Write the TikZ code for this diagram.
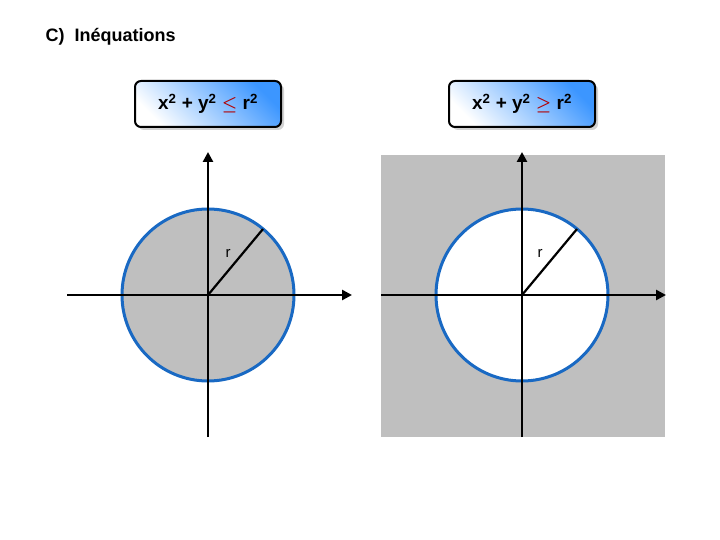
\documentclass[tikz,border=0pt]{standalone}
\usepackage{amsmath}
\usepackage{fontspec}
\setmainfont{Liberation Sans}
\usetikzlibrary{arrows.meta,shadows}
\begin{document}
\begin{tikzpicture}[x=1pt,y=-1pt,
  formula/.style={draw=black,line width=2pt,rounded corners=6pt,minimum width=146pt,minimum height=46pt,
    left color=white,right color={rgb,255:red,60;green,150;blue,255},shading angle=135,
    drop shadow={shadow xshift=3pt,shadow yshift=-3pt,fill=gray!70},font=\bfseries\fontsize{19}{22}\selectfont},
  axis/.style={line width=2.5pt,-{Triangle[length=10pt,width=10pt]}},
  circ/.style={draw={rgb,255:red,25;green,105;blue,195},line width=3pt},
  rad/.style={line width=2.2pt},
  lbl/.style={font=\fontsize{15}{18}\selectfont}]
\useasboundingbox (0,0) rectangle (720,540);
\node[font=\bfseries\fontsize{18}{21}\selectfont,anchor=west] (title) at (42,37) {C)\ \ Inéquations};
\node[formula] (f1) at (208,104) {x\textsuperscript{2} + y\textsuperscript{2} \textcolor{red!70!black}{$\boldsymbol{\leq}$} r\textsuperscript{2}};
\node[formula] (f2) at (522,104) {x\textsuperscript{2} + y\textsuperscript{2} \textcolor{red!70!black}{$\boldsymbol{\geq}$} r\textsuperscript{2}};
% left
\fill[gray!50] (208,295) circle (86);
\draw[circ] (208,295) circle (86);
\coordinate (o1) at (208,295);
\coordinate (x1a) at (67,295); \coordinate (x1b) at (352,295);
\coordinate (y1a) at (208,437); \coordinate (y1b) at (208,152);
\draw[axis] (x1a) -- (x1b);
\draw[axis] (y1a) -- (y1b);
\coordinate (p1) at (263,229);
\draw[rad] (o1) -- (p1);
\node[lbl] (r1) at (228,253) {r};
% right
\fill[gray!50] (381,155) rectangle (665,437);
\fill[white] (522,295) circle (86);
\draw[circ] (522,295) circle (86);
\coordinate (o2) at (522,295);
\coordinate (x2a) at (381,295); \coordinate (x2b) at (666,295);
\coordinate (y2a) at (522,437); \coordinate (y2b) at (522,152);
\draw[axis] (x2a) -- (x2b);
\draw[axis] (y2a) -- (y2b);
\coordinate (p2) at (577,229);
\draw[rad] (o2) -- (p2);
\node[lbl] (r2) at (540,253) {r};
\end{tikzpicture}
\end{document}
